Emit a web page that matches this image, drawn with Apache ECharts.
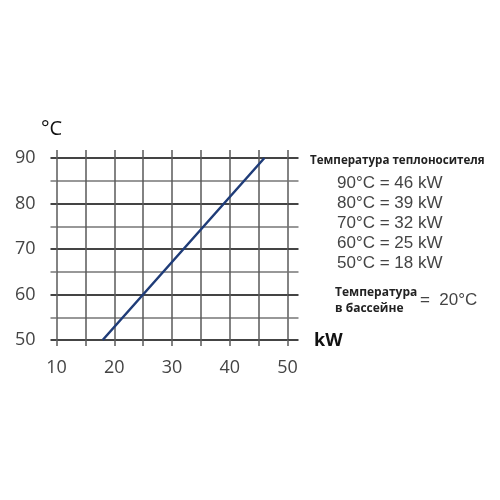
<!DOCTYPE html>
<html><head><meta charset="utf-8">
<script src="https://cdn.jsdelivr.net/npm/echarts@6/dist/echarts.min.js"></script>
<style>html,body{margin:0;padding:0;background:#fff}#c{width:500px;height:500px}</style>
</head><body><div id="c"></div>
<script>
const kW = [18, 25, 32, 39, 46];
const tempC = [50, 60, 70, 80, 90];
const xTicks = [10, 20, 30, 40, 50];
const yTicks = [50, 60, 70, 80, 90];
const legendTitle = 'Температура теплоносителя';
const legendLines = ['90°C = 46 kW', '80°C = 39 kW', '70°C = 32 kW', '60°C = 25 kW', '50°C = 18 kW'];
const poolLabel = ['Температура', 'в бассейне'];
const poolValue = '=  20°C';

const gridCol = '#5a5a5a';
const chart = echarts.init(document.getElementById('c'));
const textEls = [
  {type:'text', left:310, top:155, style:{text:legendTitle, font:'bold 11.6px "Open Sans", sans-serif', fill:'#222'}}
];
legendLines.forEach((t,i)=>textEls.push({type:'text', left:337, top:175+i*20, style:{text:t, font:'17px "Liberation Sans", Arial, sans-serif', fill:'#444'}}));
textEls.push({type:'text', left:335, top:287, style:{text:poolLabel[0], font:'bold 12px "Open Sans", sans-serif', fill:'#222'}});
textEls.push({type:'text', left:335, top:303, style:{text:poolLabel[1], font:'bold 12px "Open Sans", sans-serif', fill:'#222'}});
textEls.push({type:'text', left:420, top:292, style:{text:poolValue, font:'17px "Liberation Sans", Arial, sans-serif', fill:'#444'}});
textEls.push({type:'text', left:41, top:119, style:{text:'°C', font:'20px "Open Sans", sans-serif', fill:'#111'}});
textEls.push({type:'text', left:314, top:332, style:{text:'kW', font:'bold 18px "Open Sans", sans-serif', fill:'#111'}});

const xBase = {type:'value', min:xTicks[0], max:xTicks[xTicks.length-1], interval:10,
  axisLine:{show:false},
  minorTick:{show:true, splitNumber:2, lineStyle:{color:gridCol, width:1.5}},
  minorSplitLine:{show:true, lineStyle:{color:gridCol, width:1.5}},
  splitLine:{show:true, lineStyle:{color:gridCol, width:1.5}}
};
const yBase = {type:'value', min:yTicks[0], max:yTicks[yTicks.length-1], interval:10,
  axisLine:{show:false},
  minorTick:{show:true, splitNumber:2, lineStyle:{color:'#777', width:1.5}},
  minorSplitLine:{show:true, lineStyle:{color:'#777', width:1.5}},
  splitLine:{show:true, lineStyle:{color:'#444', width:2}}
};
chart.setOption({
  animation:false,
  grid:{left:56.5, right:212.5, top:158, bottom:160, containLabel:false},
  xAxis:[
    Object.assign({}, xBase, {position:'bottom',
      axisTick:{show:true, length:6, lineStyle:{color:gridCol, width:1.5}},
      minorTick:{show:true, splitNumber:2, length:6, lineStyle:{color:gridCol, width:1.5}},
      axisLabel:{show:true, margin:19, fontSize:18, color:'#444', fontFamily:'"Open Sans", sans-serif'}}),
    Object.assign({}, xBase, {position:'top',
      axisTick:{show:true, length:8, lineStyle:{color:gridCol, width:1.5}},
      minorTick:{show:true, splitNumber:2, length:8, lineStyle:{color:gridCol, width:1.5}},
      axisLabel:{show:false}, splitLine:{show:false}, minorSplitLine:{show:false}})
  ],
  yAxis:[
    Object.assign({}, yBase, {position:'left',
      axisTick:{show:true, length:6, lineStyle:{color:'#444', width:2}},
      minorTick:{show:true, splitNumber:2, length:6, lineStyle:{color:'#777', width:1.5}},
      axisLabel:{show:true, margin:21, fontSize:18, color:'#444', fontFamily:'"Open Sans", sans-serif'}}),
    Object.assign({}, yBase, {position:'right',
      axisTick:{show:true, length:11, lineStyle:{color:'#444', width:2}},
      minorTick:{show:true, splitNumber:2, length:11, lineStyle:{color:'#777', width:1.5}},
      axisLabel:{show:false}, splitLine:{show:false}, minorSplitLine:{show:false}})
  ],
  series:[{type:'line', xAxisIndex:0, yAxisIndex:0, data:kW.map((v,i)=>[v,tempC[i]]),
    symbol:'none', lineStyle:{color:'#1f3c78', width:2.5}}],
  graphic:textEls
});
</script></body></html>
